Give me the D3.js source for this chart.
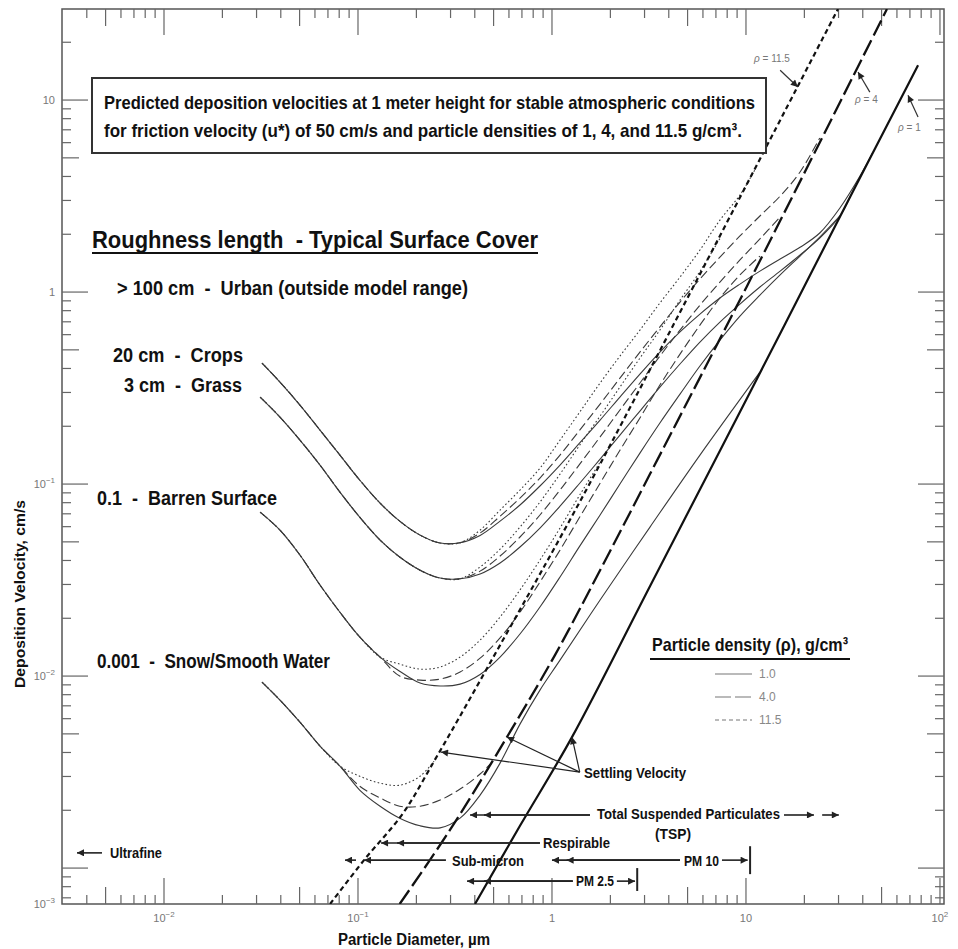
<!DOCTYPE html>
<html>
<head>
<meta charset="utf-8">
<script src="https://cdn.jsdelivr.net/npm/d3@7"></script>
<style>
  body { margin: 0; background: #fff; }
  svg text { font-family: "Liberation Sans Narrow", "Arial Narrow", "Liberation Sans", Arial, sans-serif; white-space: pre; }
</style>
</head>
<body>
<svg id="chart" width="958" height="949"></svg>
<script>
// ---- values: [diameter um, deposition velocity cm/s] ----
const densities = ["1.0", "4.0", "11.5"];

// settling velocity lines, one per density
const settleRho1 = [[0.401, 0.00065], [0.684, 0.00166], [1.268, 0.00481], [3.20, 0.0294], [10.5, 0.301], [34.4, 3.13], [77.1, 15.2]];
const settleRho4 = [[0.164, 0.00065], [0.298, 0.00158], [0.586, 0.00481], [1.036, 0.01286], [1.77, 0.0356], [3.20, 0.1127], [10.5, 1.155], [53.3, 29.8]];
const settleRho115 = [[0.0718, 0.00065], [0.1074, 0.0011], [0.1706, 0.00193], [0.2466, 0.0036], [0.327, 0.0059], [0.540, 0.0145], [1.10, 0.0524], [1.77, 0.127], [5.79, 1.24], [18.5, 11.8], [29.8, 29.8]];

// roughness 20 cm - crops
const cropsLeft = [[0.032, 0.427], [0.0396, 0.340], [0.0502, 0.258], [0.0637, 0.191], [0.0807, 0.1416], [0.102, 0.105], [0.130, 0.0796], [0.164, 0.0641], [0.209, 0.0542], [0.265, 0.0493], [0.336, 0.0495]];
const cropsRho1 = [[0.426, 0.0540], [0.540, 0.0641], [0.684, 0.0778], [0.867, 0.0977], [1.10, 0.1256], [1.39, 0.1637], [1.77, 0.2154], [2.24, 0.284], [2.84, 0.374], [3.60, 0.487], [4.57, 0.620], [5.79, 0.768], [7.34, 0.931], [9.31, 1.10], [11.8, 1.285], [15.0, 1.485], [19.0, 1.71], [24.0, 2.03], [30.5, 2.74], [38.7, 4.02], [45.2, 5.36]];
const cropsRho4 = [[0.426, 0.0556], [0.540, 0.068], [0.684, 0.0845], [0.867, 0.1075], [1.10, 0.1416], [1.39, 0.191], [1.77, 0.261], [2.24, 0.356], [2.84, 0.487], [3.60, 0.658], [4.57, 0.887], [5.79, 1.169], [7.34, 1.52], [9.31, 1.96], [11.8, 2.49], [15.0, 3.16], [19.0, 4.22], [24.0, 6.34]];
const cropsRho115 = [[0.426, 0.0576], [0.540, 0.0732], [0.684, 0.0931], [0.867, 0.121], [1.10, 0.1695], [1.39, 0.237], [1.77, 0.336], [2.24, 0.464], [2.84, 0.634], [3.60, 0.877], [4.57, 1.197], [5.79, 1.655], [7.34, 2.37], [9.31, 3.20], [11.1, 4.32]];

// roughness 3 cm - grass
const grassLeft = [[0.0313, 0.284], [0.0396, 0.2234], [0.0502, 0.1695], [0.0637, 0.1256], [0.0807, 0.0908], [0.102, 0.0673], [0.130, 0.0511], [0.164, 0.0417], [0.209, 0.0356], [0.265, 0.0324], [0.336, 0.0321]];
const grassRho1 = [[0.426, 0.0340], [0.540, 0.0388], [0.684, 0.047], [0.867, 0.059], [1.10, 0.0767], [1.39, 0.101], [1.77, 0.135], [2.24, 0.180], [2.84, 0.240], [3.60, 0.320], [4.57, 0.422], [5.79, 0.549], [7.34, 0.698], [9.31, 0.866], [11.8, 1.062], [15.0, 1.285], [19.0, 1.56], [24.0, 1.91], [30.5, 2.49], [34.4, 3.13]];
const grassRho4 = [[0.426, 0.0352], [0.540, 0.0422], [0.684, 0.0530], [0.867, 0.069], [1.10, 0.0931], [1.39, 0.127], [1.77, 0.176], [2.24, 0.243], [2.84, 0.336], [3.60, 0.464], [4.57, 0.634], [5.79, 0.855], [7.34, 1.127], [9.31, 1.47], [11.8, 1.89], [15.0, 2.46]];
const grassRho115 = [[0.426, 0.0370], [0.540, 0.0458], [0.684, 0.0597], [0.867, 0.0806], [1.10, 0.1127], [1.39, 0.1596], [1.77, 0.226], [2.24, 0.320], [2.84, 0.453], [3.60, 0.634], [4.57, 0.908], [5.79, 1.28], [7.34, 1.9]];

// roughness 0.1 cm - barren surface
const barrenLeft = [[0.0313, 0.0714], [0.0396, 0.0576], [0.0502, 0.0427], [0.0637, 0.0298], [0.0807, 0.0215], [0.102, 0.0160], [0.130, 0.01256]];
const barrenRho1 = [[0.164, 0.0106], [0.209, 0.0092], [0.265, 0.00888], [0.336, 0.00908], [0.426, 0.0102], [0.540, 0.01256], [0.684, 0.01656], [0.867, 0.0229], [1.10, 0.0328], [1.39, 0.0475], [1.77, 0.069], [2.24, 0.1], [2.84, 0.145], [3.60, 0.208], [4.57, 0.294], [5.79, 0.412], [7.34, 0.562], [9.31, 0.75], [11.8, 0.964], [15.0, 1.228], [19.0, 1.54], [24.0, 1.93], [30.5, 2.49]];
const barrenRho4 = [[0.164, 0.01], [0.209, 0.00953], [0.265, 0.00964], [0.336, 0.0105], [0.426, 0.0124], [0.540, 0.0158], [0.684, 0.0215], [0.867, 0.0309], [1.10, 0.0453], [1.39, 0.0673], [1.77, 0.101], [2.24, 0.150], [2.84, 0.221], [3.60, 0.328], [4.57, 0.475], [5.79, 0.673], [7.34, 0.931], [9.31, 1.228], [11.8, 1.54]];
const barrenRho115 = [[0.164, 0.01155], [0.209, 0.01087], [0.265, 0.01114], [0.336, 0.01256], [0.426, 0.0154], [0.540, 0.0203], [0.684, 0.0281], [0.867, 0.0402], [1.10, 0.059], [1.39, 0.0877], [1.77, 0.130]];

// roughness 0.001 cm - snow / smooth water
const snowLeft = [[0.032, 0.00931], [0.0396, 0.0075], [0.0502, 0.00576], [0.0637, 0.00432], [0.0807, 0.0034]];
const snowRho1 = [[0.102, 0.00255], [0.130, 0.0021], [0.164, 0.00182], [0.209, 0.00166], [0.265, 0.00162], [0.336, 0.00182], [0.426, 0.0024], [0.540, 0.00352], [0.684, 0.00562], [0.867, 0.00845], [1.10, 0.0121], [1.77, 0.0249], [3.20, 0.0597], [5.79, 0.1416], [11.8, 0.383]];
const snowRho4 = [[0.102, 0.00267], [0.130, 0.00232], [0.164, 0.0021], [0.209, 0.0021], [0.265, 0.00226], [0.336, 0.00258], [0.426, 0.00309], [0.491, 0.00356]];
const snowRho115 = [[0.102, 0.00301], [0.130, 0.00277], [0.164, 0.0027], [0.209, 0.00301], [0.2466, 0.0036]];

// axis tick labels
const xTickValues = [0.01, 0.1, 1, 10, 100];
const xTickText = [["10", "\u22122"], ["10", "\u22121"], ["1", ""], ["10", ""], ["10", "2"]];
const yTickValues = [10, 1, 0.1, 0.01];
const yTickText = [["10", ""], ["1", ""], ["10", "\u22121"], ["10", "\u22122"]];

// size range arrows: [from d, to d, v]  (head at "to")
const rangeArrows = [
  [1.57, 0.378, 0.00189], [1.57, 0.446, 0.00189], [15.7, 22.4, 0.00189], [24.7, 30.1, 0.00189],
  [0.867, 0.1315, 0.00135], [0.867, 0.159, 0.00135],
  [0.284, 0.1074, 0.0011], [0.0977, 0.0857, 0.0011],
  [4.57, 1.0, 0.0011], [4.57, 1.19, 0.0011], [7.52, 10.2, 0.0011],
  [1.28, 0.365, 0.000855], [1.28, 0.446, 0.000855], [2.16, 2.68, 0.000855],
  [0.00479, 0.00356, 0.0012]
];
// end bars: [d, v top, v bottom]
const rangeBars = [[10.5, 0.0013, 0.00093], [2.75, 0.001, 0.00076]];
// settling velocity pointers: [from d, from v, to d, to v]
const settlePointers = [[1.39, 0.00316, 0.268, 0.00402], [1.39, 0.00316, 0.586, 0.00481], [1.39, 0.00316, 1.268, 0.00481]];
// density labels near the top: [text value, label d, label v, leader from d, v, to d, v]
const rhoLabels = [
  ["11.5", 11.0, 15.8, 15.0, 14.3, 18.5, 11.7],
  ["4", 36.5, 9.65, 43.5, 11.0, 37.8, 14.0],
  ["1", 60.8, 6.9, 77.1, 8.15, 68.4, 10.6]
];

// ---- drawing ----
const plot = { left: 62, right: 944, top: 9, bottom: 904 };

const x = d3.scaleLog().domain([0.00298, 104.9]).range([plot.left, plot.right]);
const y = d3.scaleLog().domain([0.00065, 29.8]).range([plot.bottom, plot.top]);

const svg = d3.select("#chart");
const defs = svg.append("defs");
defs.append("clipPath").attr("id", "clip")
  .append("rect")
  .attr("x", plot.left).attr("y", plot.top)
  .attr("width", plot.right - plot.left).attr("height", plot.bottom - plot.top);
defs.append("marker")
  .attr("id", "head")
  .attr("viewBox", "0 0 10 10")
  .attr("refX", 10).attr("refY", 5)
  .attr("markerWidth", 9).attr("markerHeight", 7)
  .attr("markerUnits", "userSpaceOnUse")
  .attr("orient", "auto")
  .append("path").attr("d", "M0,0L10,5L0,10Z").attr("fill", "#222");

// frame
svg.append("rect")
  .attr("x", plot.left).attr("y", plot.top)
  .attr("width", plot.right - plot.left).attr("height", plot.bottom - plot.top)
  .attr("fill", "none").attr("stroke", "#555").attr("stroke-width", 1.5);

const tickLen = (t) => {
  const m = Math.round(t / Math.pow(10, Math.floor(Math.log10(t) + 1e-9)));
  return m === 1 ? 26 : m === 5 ? 17 : 9;
};

const ticks = svg.append("g").attr("stroke", "#666").attr("stroke-width", 1.2);
x.ticks().forEach((t) => {
  const px = x(t), L = tickLen(t);
  if (px <= plot.left + 1 || px >= plot.right - 1) return;
  ticks.append("line").attr("x1", px).attr("x2", px).attr("y1", plot.bottom).attr("y2", plot.bottom - L);
  ticks.append("line").attr("x1", px).attr("x2", px).attr("y1", plot.top).attr("y2", plot.top + L);
});
y.ticks().forEach((t) => {
  const py = y(t), L = tickLen(t);
  if (py <= plot.top + 1 || py >= plot.bottom - 1) return;
  ticks.append("line").attr("y1", py).attr("y2", py).attr("x1", plot.left).attr("x2", plot.left + L);
  ticks.append("line").attr("y1", py).attr("y2", py).attr("x1", plot.right).attr("x2", plot.right - L);
});

// tick labels
const powText = (g, base, exp) => {
  g.append("tspan").text(base);
  if (exp) g.append("tspan").attr("dy", -5).attr("font-size", 8).text(exp);
};
const tickLabel = (px, py, anchor) =>
  svg.append("text")
    .attr("x", px).attr("y", py)
    .attr("text-anchor", anchor)
    .attr("font-size", 11).attr("fill", "#777")
    .style("font-family", "'Liberation Sans', Arial, sans-serif");
xTickValues.forEach((v, i) => powText(tickLabel(x(v), 922, "middle"), xTickText[i][0], xTickText[i][1]));
yTickValues.forEach((v, i) => powText(tickLabel(55, y(v) + 4, "end"), yTickText[i][0], yTickText[i][1]));
powText(tickLabel(55, y(y.domain()[0]) + 4, "end"), "10", "\u22123");

// curves
const line = d3.line()
  .x((d) => x(d[0]))
  .y((d) => y(d[1]))
  .curve(d3.curveCatmullRom.alpha(0.5));

const thinStyles = [null, "9,4", "1.6,2.4"];
const surfaces = [
  { left: cropsLeft, rho: [cropsRho1, cropsRho4, cropsRho115] },
  { left: grassLeft, rho: [grassRho1, grassRho4, grassRho115] },
  { left: barrenLeft, rho: [barrenRho1, barrenRho4, barrenRho115] },
  { left: snowLeft, rho: [snowRho1, snowRho4, snowRho115] }
];
const curves = svg.append("g").attr("clip-path", "url(#clip)");
surfaces.forEach((s) => {
  s.rho.forEach((r, i) => {
    curves.append("path")
      .datum(s.left.concat(r))
      .attr("fill", "none")
      .attr("stroke", "#3a3a3a")
      .attr("stroke-width", 1.1)
      .attr("stroke-dasharray", thinStyles[i])
      .attr("d", line);
  });
});

const settling = [
  { data: settleRho1, dash: null, w: 2.2 },
  { data: settleRho4, dash: "17,5", w: 2.3 },
  { data: settleRho115, dash: "5,3.5", w: 2.2 }
];
settling.forEach((s) => {
  curves.append("path")
    .datum(s.data)
    .attr("fill", "none")
    .attr("stroke", "#111")
    .attr("stroke-width", s.w)
    .attr("stroke-dasharray", s.dash)
    .attr("d", line);
});

// header box
svg.append("rect")
  .attr("x", 92).attr("y", 78).attr("width", 674).attr("height", 75)
  .attr("fill", "#fff").attr("stroke", "#333").attr("stroke-width", 2);

const bold = (txt, px, py, size, len) =>
  svg.append("text")
    .attr("x", px).attr("y", py)
    .attr("font-size", size).attr("font-weight", "bold").attr("fill", "#111")
    .attr("textLength", len).attr("lengthAdjust", "spacingAndGlyphs")
    .text(txt);

bold("Predicted deposition velocities at 1 meter height for stable atmospheric conditions", 104, 109, 18.5, 651);
bold("for friction velocity (u*) of 50 cm/s and particle densities of 1, 4, and 11.5 g/cm\u00b3.", 104, 137, 18.5, 638);

bold("Roughness length  - Typical Surface Cover", 92, 248, 23, 446);
svg.append("line").attr("x1", 92).attr("x2", 538).attr("y1", 253).attr("y2", 253)
  .attr("stroke", "#111").attr("stroke-width", 1.8);
bold("> 100 cm  -  Urban (outside model range)", 117, 295, 19.5, 351);
bold("20 cm  -  Crops", 113, 362, 19.5, 130);
bold("3 cm  -  Grass", 124, 392, 19.5, 118);
bold("0.1  -  Barren Surface", 97, 505, 19.5, 180);
bold("0.001  -  Snow/Smooth Water", 97, 668, 19.5, 233);

// legend
bold("Particle density (\u03c1), g/cm\u00b3", 652, 651, 18.5, 196);
svg.append("line").attr("x1", 650).attr("x2", 850).attr("y1", 659).attr("y2", 659)
  .attr("stroke", "#111").attr("stroke-width", 2);
densities.forEach((d, i) => {
  const ly = 674 + i * 23;
  svg.append("line")
    .attr("x1", 715).attr("x2", 752).attr("y1", ly).attr("y2", ly)
    .attr("stroke", "#777").attr("stroke-width", 1.2)
    .attr("stroke-dasharray", i === 0 ? null : i === 1 ? "16,4" : "4,3");
  svg.append("text")
    .attr("x", 759).attr("y", ly + 4)
    .attr("font-size", 12).attr("fill", "#888")
    .style("font-family", "'Liberation Sans', Arial, sans-serif")
    .text(d);
});

// settling velocity pointers
const ann = svg.append("g").attr("stroke", "#222").attr("stroke-width", 1.2).attr("fill", "none");
settlePointers.forEach((p) => {
  ann.append("line")
    .attr("x1", x(p[0])).attr("y1", y(p[1]))
    .attr("x2", x(p[2])).attr("y2", y(p[3]))
    .attr("marker-end", "url(#head)");
});
bold("Settling Velocity", 584, 778, 14, 102);

// size range arrows
rangeArrows.forEach((a) => {
  ann.append("line")
    .attr("x1", x(a[0])).attr("y1", y(a[2]))
    .attr("x2", x(a[1])).attr("y2", y(a[2]))
    .attr("stroke-width", 1.6)
    .attr("marker-end", "url(#head)");
});
rangeBars.forEach((b) => {
  ann.append("line")
    .attr("x1", x(b[0])).attr("x2", x(b[0]))
    .attr("y1", y(b[1])).attr("y2", y(b[2]))
    .attr("stroke-width", 2);
});
bold("Total Suspended Particulates", 597, 819, 15, 183);
bold("(TSP)", 655, 839, 15, 36);
bold("Respirable", 543, 848, 15, 67);
bold("Sub-micron", 452, 866, 15, 72);
bold("PM 10", 684, 866, 15, 35);
bold("PM 2.5", 576, 886, 15, 38);
bold("Ultrafine", 110, 858, 14, 52);

// density labels near the top
rhoLabels.forEach((r) => {
  const t = svg.append("text")
    .attr("x", x(r[1])).attr("y", y(r[2]))
    .attr("font-size", 10).attr("fill", "#777")
    .style("font-family", "'Liberation Sans', Arial, sans-serif");
  t.append("tspan").attr("font-style", "italic").text("\u03c1");
  t.append("tspan").text(" = " + r[0]);
  ann.append("line")
    .attr("x1", x(r[3])).attr("y1", y(r[4]))
    .attr("x2", x(r[5])).attr("y2", y(r[6]))
    .attr("stroke", "#333").attr("stroke-width", 1.2)
    .attr("marker-end", "url(#head)");
});

// axis titles
bold("Particle Diameter, \u00b5m", 338, 945, 16, 152);
svg.append("text")
  .attr("transform", "translate(25,594) rotate(-90)")
  .attr("text-anchor", "middle")
  .attr("font-size", 15).attr("font-weight", "bold").attr("fill", "#111")
  .attr("textLength", 188).attr("lengthAdjust", "spacingAndGlyphs")
  .text("Deposition Velocity, cm/s");
</script>
</body>
</html>
